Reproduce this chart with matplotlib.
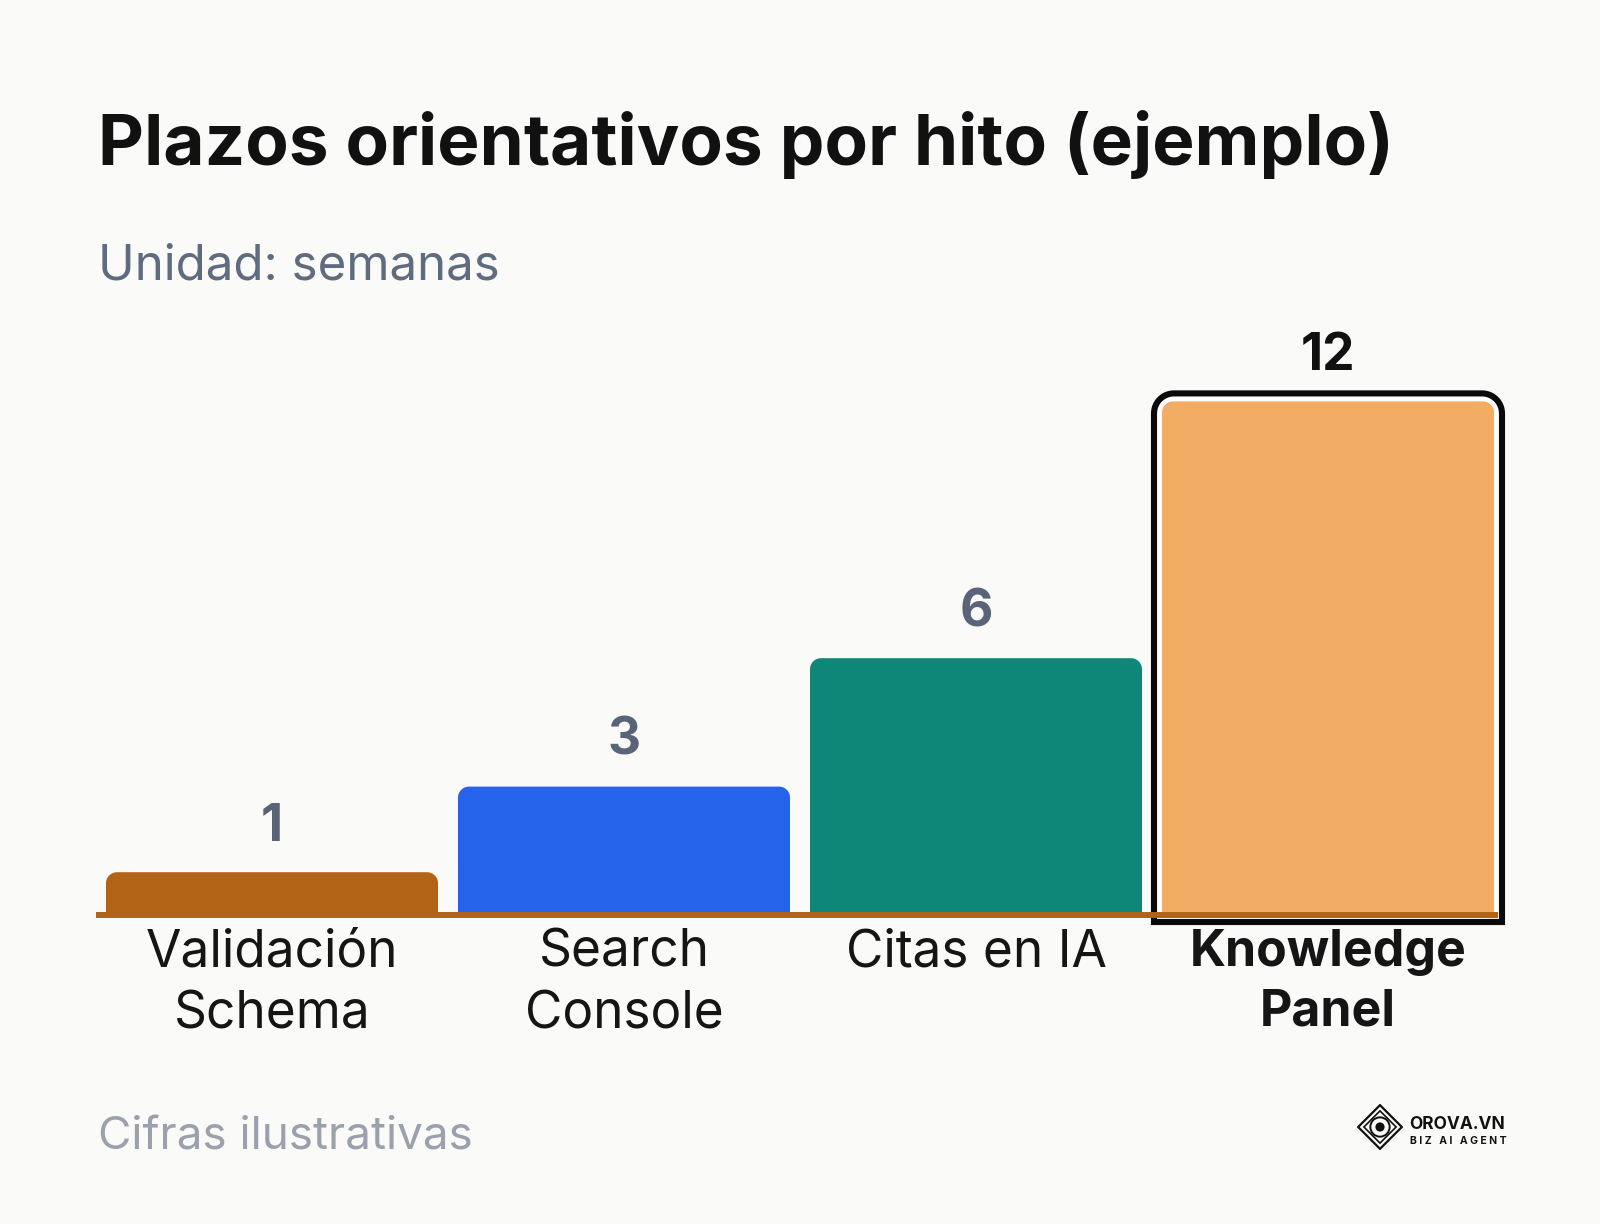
import matplotlib
matplotlib.use("Agg")
import matplotlib.pyplot as plt
from matplotlib.patches import Polygon, Circle
import numpy as np

# Data
categorias = ["Validación\nSchema", "Search\nConsole", "Citas en IA", "Knowledge\nPanel"]
semanas = [1, 3, 6, 12]
colores = ["#B36315", "#2563EB", "#0E8778", "#F2AC64"]
destacado = 3

titulo = "Plazos orientativos por hito (ejemplo)"
subtitulo = "Unidad: semanas"
nota = "Cifras ilustrativas"

plt.rcParams['font.family'] = ['Inter', 'DejaVu Sans']

W, H = 1600, 1224
bg = "#FAFAF8"
fig = plt.figure(figsize=(W / 100, H / 100), dpi=100, facecolor=bg)

# axes in pixel coords
ax_left, ax_right = 96, 1504
base_y = 915           # baseline, px from top
px_y = 42.8            # pixels per week
ymax = 13
ax = fig.add_axes([ax_left / W, (H - base_y) / H, (ax_right - ax_left) / W, ymax * px_y / H])
ax.set_facecolor(bg)
ax.set_xlim(-0.5, 3.5)
ax.set_ylim(0, ymax)
ax.axis("off")
px_x = (ax_right - ax_left) / 4.0


def top_rounded(x0, x1, y0, y1, r):
    # polygon with rounded top corners, r in pixels
    rx, ry = r / px_x, r / px_y
    t = np.linspace(0, np.pi / 2, 20)
    pts = [(x0, y0)]
    pts += [(x0 + rx - rx * np.cos(a), y1 - ry + ry * np.sin(a)) for a in t]
    pts += [(x1 - rx + rx * np.sin(a), y1 - ry + ry * np.cos(a)) for a in t]
    pts.append((x1, y0))
    return pts


bw = 332 / px_x
for i, (v, c) in enumerate(zip(semanas, colores)):
    ax.add_patch(Polygon(top_rounded(i - bw / 2, i + bw / 2, 0, v, 11), closed=True,
                         facecolor=c, edgecolor="none", zorder=2))
    lab_col = "#111111" if i == destacado else "#5A6478"
    ax.text(i, v + 0.74, str(v), ha="center", va="baseline", fontsize=37,
            fontweight="bold", color=lab_col, zorder=4)
    ax.text(i, -0.32, categorias[i], ha="center", va="top",
            fontsize=36 if i == destacado else 37,
            fontweight="bold" if i == destacado else "normal", color="#151515",
            linespacing=1.35, zorder=4)

# highlight frame
i = destacado
ex = 8 / px_x
frame = Polygon(top_rounded(i - bw / 2 - ex, i + bw / 2 + ex, -7 / px_y,
                            semanas[i] + 8 / px_y, 20), closed=True,
                facecolor="white", edgecolor="#0A0A0A", linewidth=4.4, zorder=1.5,
                clip_on=False)
ax.add_patch(frame)

# baseline
ax.plot([-0.5, 3.5 - 6 / px_x], [0, 0], color="#B36315", linewidth=4.3,
        solid_capstyle="butt", zorder=3.5, clip_on=False)

# texts
fig.text(98 / W, 1 - 165 / H, titulo, fontsize=51.2, fontweight="bold", color="#111111", va="baseline")
fig.text(98 / W, 1 - 280 / H, subtitulo, fontsize=35.5, color="#5F6B7E", va="baseline")
fig.text(98 / W, 1 - 1149 / H, nota, fontsize=33, color="#9AA1AD", va="baseline")

# logo
lax = fig.add_axes([1357 / W, 1 - 1150 / H, 46 / W, 46 / H])
lax.set_xlim(-1, 1)
lax.set_ylim(-1, 1)
lax.set_aspect("equal")
lax.axis("off")
lax.add_patch(Polygon([(0, 0.95), (0.95, 0), (0, -0.95), (-0.95, 0)], closed=True,
                      facecolor="none", edgecolor="#111111", linewidth=1.6))
lax.add_patch(Polygon([(0, 0.7), (0.7, 0), (0, -0.7), (-0.7, 0)], closed=True,
                      facecolor="none", edgecolor="#111111", linewidth=1.2))
lax.add_patch(Circle((0, 0), 0.42, facecolor="none", edgecolor="#111111", linewidth=1.4))
lax.add_patch(Circle((0, 0), 0.2, facecolor="#111111", edgecolor="none"))
fig.text(1409 / W, 1 - 1129 / H, "OROVA.VN", fontsize=12.5, fontweight="bold",
         color="#111111", va="baseline")
fig.text(1410 / W, 1 - 1144 / H, "B I Z   A I   A G E N T", fontsize=7.5, fontweight="bold",
         color="#111111", va="baseline")

fig.savefig("out.png", dpi=100, facecolor=bg)
